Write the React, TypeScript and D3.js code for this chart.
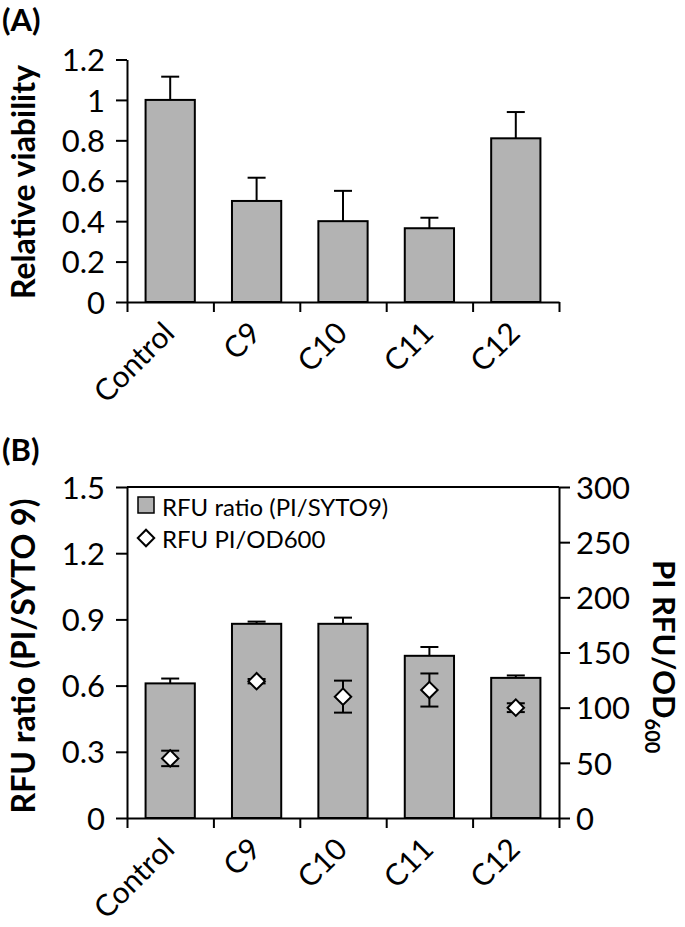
import React, { useEffect, useRef } from "react";
import * as d3 from "d3";

const categories = ["Control", "C9", "C10", "C11", "C12"];

// (A) relative viability
const viability = [1.0, 0.5, 0.4, 0.365, 0.81];
const viabilityErr = [0.115, 0.115, 0.15, 0.052, 0.13];
const viabilityTicks = [0, 0.2, 0.4, 0.6, 0.8, 1, 1.2];

// (B) RFU ratio bars (left axis) and PI/OD600 diamonds (right axis)
const rfuRatio = [0.61, 0.88, 0.88, 0.735, 0.635];
const rfuRatioErr = [0.022, 0.01, 0.028, 0.04, 0.011];
const piOd = [54, 124, 110, 116, 100];
const piOdErr = [7, 2, 14.5, 15, 4];
const rfuTicks = [0, 0.3, 0.6, 0.9, 1.2, 1.5];
const piOdTicks = [0, 50, 100, 150, 200, 250, 300];

const legendLabels = ["RFU ratio (PI/SYTO9)", "RFU PI/OD600"];

const FONT = "Lato, 'Open Sans', sans-serif";
const GREY = "#b3b3b3";

const App: React.FC = () => {
  const svgRef = useRef<SVGSVGElement>(null);

  useEffect(() => {
    document.body.style.margin = "0";
    if (!svgRef.current) return;
    const svg = d3.select(svgRef.current);
    svg.selectAll("*").remove();

    const W = 685;
    const H = 927;
    svg.attr("width", W).attr("height", H).style("display", "block").style("background", "#fff");

    const left = 127;
    const right = 559;
    const fmt = (v: number) => String(+v.toFixed(2));

    const xBand = d3
      .scaleBand<string>()
      .domain(categories)
      .range([left, right])
      .paddingInner(0.43)
      .paddingOuter(0.215);
    const xEdge = d3.scaleLinear().domain([0, categories.length]).range([left, right]);
    const cx = (c: string) => (xBand(c) as number) + xBand.bandwidth() / 2;

    const styleAxis = (g: any, size = 31) => {
      g.selectAll("line,path").attr("stroke", "#000").attr("stroke-width", 2);
      g.attr("font-family", FONT).attr("font-size", size);
      g.selectAll("text").attr("fill", "#000").attr("dy", "0.36em");
    };

    const catAxis = (y0: number) => {
      svg
        .append("g")
        .attr("transform", `translate(0,${y0})`)
        .call(
          d3
            .axisBottom(xEdge)
            .tickValues(d3.range(categories.length + 1))
            .tickSize(10)
            .tickSizeOuter(0)
            .tickFormat(() => "")
        )
        .call((g: any) => styleAxis(g));
      categories.forEach((c) => {
        svg
          .append("text")
          .attr("transform", `translate(${cx(c) + 6},${y0 + 33}) rotate(-45)`)
          .attr("text-anchor", "end")
          .attr("font-family", FONT)
          .attr("font-size", 30)
          .text(c);
      });
    };

    const bars = (y: d3.ScaleLinear<number, number>, vals: number[], errs: number[]) => {
      categories.forEach((c, i) => {
        const x = cx(c);
        svg
          .append("line")
          .attr("x1", x)
          .attr("x2", x)
          .attr("y1", y(vals[i]))
          .attr("y2", y(vals[i] + errs[i]))
          .attr("stroke", "#000")
          .attr("stroke-width", 2);
        svg
          .append("line")
          .attr("x1", x - 9)
          .attr("x2", x + 9)
          .attr("y1", y(vals[i] + errs[i]))
          .attr("y2", y(vals[i] + errs[i]))
          .attr("stroke", "#000")
          .attr("stroke-width", 2);
      });
      svg
        .append("g")
        .selectAll("rect")
        .data(vals)
        .join("rect")
        .attr("x", (_, i) => xBand(categories[i]) as number)
        .attr("width", xBand.bandwidth())
        .attr("y", (d) => y(d))
        .attr("height", (d) => y(0) - y(d))
        .attr("fill", GREY)
        .attr("stroke", "#000")
        .attr("stroke-width", 2);
    };

    const boldTitle = (text: string, x: number, y: number) =>
      svg
        .append("text")
        .attr("transform", `translate(${x},${y}) rotate(-90)`)
        .attr("text-anchor", "middle")
        .attr("font-family", FONT)
        .attr("font-weight", "bold")
        .attr("font-size", 32)
        .text(text);

    // ---------- (A) ----------
    svg
      .append("text")
      .attr("x", 2)
      .attr("y", 31)
      .attr("font-family", FONT)
      .attr("font-weight", "bold")
      .attr("font-size", 31)
      .text("(A)");

    const yA = d3.scaleLinear().domain([0, 1.2]).range([302, 59.5]);
    bars(yA, viability, viabilityErr);
    svg
      .append("g")
      .attr("transform", `translate(${left},0)`)
      .call(d3.axisLeft(yA).tickValues(viabilityTicks).tickSize(11).tickSizeOuter(0).tickPadding(11).tickFormat(fmt as any))
      .call((g: any) => styleAxis(g));
    catAxis(yA(0));
    boldTitle("Relative viability", 35, 182);

    // ---------- (B) ----------
    svg
      .append("text")
      .attr("x", 2)
      .attr("y", 461)
      .attr("font-family", FONT)
      .attr("font-weight", "bold")
      .attr("font-size", 31)
      .text("(B)");

    const yB = d3.scaleLinear().domain([0, 1.5]).range([818, 487]);
    const yB2 = d3.scaleLinear().domain([0, 300]).range([818, 487]);

    bars(yB, rfuRatio, rfuRatioErr);

    // diamonds with two-sided error bars
    const diamond = d3.symbol().type(d3.symbolSquare).size(135);
    categories.forEach((c, i) => {
      const x = cx(c);
      const lo = yB2(piOd[i] - piOdErr[i]);
      const hi = yB2(piOd[i] + piOdErr[i]);
      svg.append("line").attr("x1", x).attr("x2", x).attr("y1", lo).attr("y2", hi).attr("stroke", "#000").attr("stroke-width", 2);
      [lo, hi].forEach((yy) =>
        svg.append("line").attr("x1", x - 9).attr("x2", x + 9).attr("y1", yy).attr("y2", yy).attr("stroke", "#000").attr("stroke-width", 2)
      );
      svg
        .append("path")
        .attr("d", diamond() as string)
        .attr("transform", `translate(${x},${yB2(piOd[i])}) rotate(45)`)
        .attr("fill", "#fff")
        .attr("stroke", "#000")
        .attr("stroke-width", 2);
    });

    // top frame line
    svg
      .append("line")
      .attr("x1", left)
      .attr("x2", right)
      .attr("y1", yB(1.5))
      .attr("y2", yB(1.5))
      .attr("stroke", "#000")
      .attr("stroke-width", 2);

    svg
      .append("g")
      .attr("transform", `translate(${left},0)`)
      .call(d3.axisLeft(yB).tickValues(rfuTicks).tickSize(11).tickSizeOuter(0).tickPadding(11).tickFormat(fmt as any))
      .call((g: any) => styleAxis(g));
    svg
      .append("g")
      .attr("transform", `translate(${right},0)`)
      .call(d3.axisRight(yB2).tickValues(piOdTicks).tickSize(11).tickSizeOuter(0).tickPadding(6).tickFormat(fmt as any))
      .call((g: any) => styleAxis(g));
    catAxis(yB(0));

    boldTitle("RFU ratio (PI/SYTO 9)", 35, 656);

    const rt = svg
      .append("text")
      .attr("transform", `translate(653,560) rotate(90)`)
      .attr("font-family", FONT)
      .attr("font-weight", "bold")
      .attr("font-size", 31);
    rt.append("tspan").text("PI RFU/OD");
    rt.append("tspan").attr("font-size", 20).attr("dy", 8).text("600");

    // legend
    svg
      .append("rect")
      .attr("x", 138)
      .attr("y", 497)
      .attr("width", 16)
      .attr("height", 16)
      .attr("fill", GREY)
      .attr("stroke", "#000")
      .attr("stroke-width", 1.5);
    svg
      .append("path")
      .attr("d", diamond() as string)
      .attr("transform", `translate(146,538) rotate(45)`)
      .attr("fill", "#fff")
      .attr("stroke", "#000")
      .attr("stroke-width", 2);
    legendLabels.forEach((t, i) => {
      svg
        .append("text")
        .attr("x", 162)
        .attr("y", 515.5 + i * 32)
        .attr("font-family", FONT)
        .attr("font-size", 24)
        .text(t);
    });
  }, []);

  return <svg ref={svgRef} />;
};

export default App;
